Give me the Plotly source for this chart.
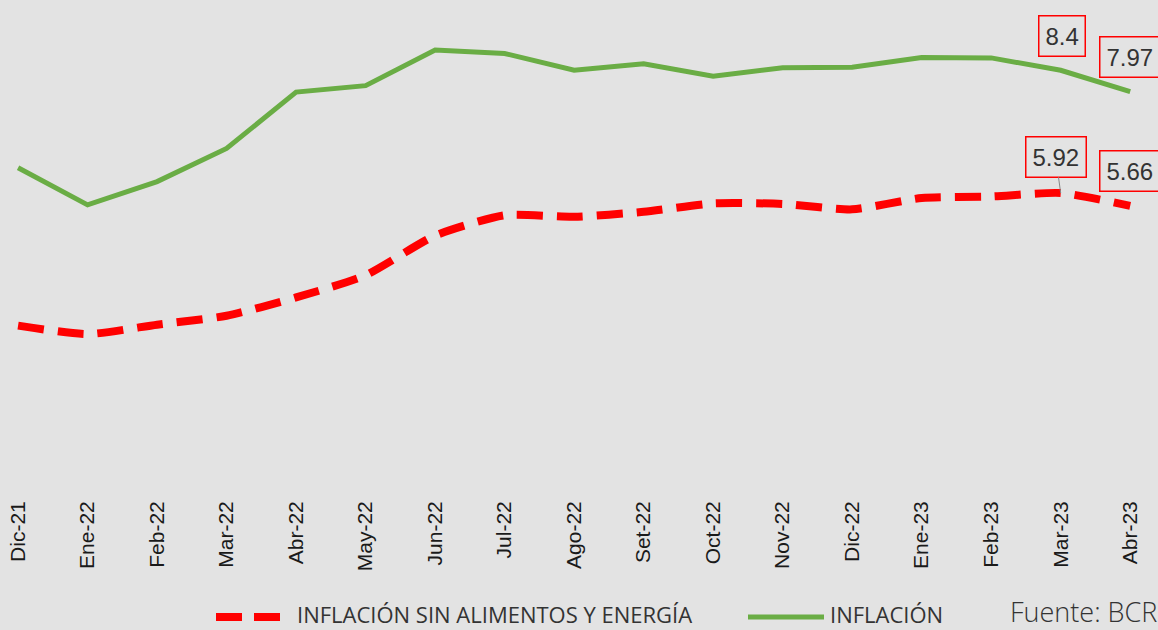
import plotly.graph_objects as go

# meses (eje x)
meses = ["Dic-21", "Ene-22", "Feb-22", "Mar-22", "Abr-22", "May-22", "Jun-22", "Jul-22",
         "Ago-22", "Set-22", "Oct-22", "Nov-22", "Dic-22", "Ene-23", "Feb-23", "Mar-23", "Abr-23"]

# inflacion 12 meses (%)
inflacion = [6.43, 5.68, 6.15, 6.82, 7.96, 8.09, 8.81, 8.74, 8.40, 8.53, 8.28, 8.45, 8.46,
             8.66, 8.65, 8.40, 7.97]

# inflacion sin alimentos y energia (%)
inflacion_sae = [3.24, 3.07, 3.26, 3.44, 3.81, 4.26, 5.06, 5.47, 5.44, 5.54, 5.71, 5.70, 5.59,
                 5.82, 5.85, 5.92, 5.66]

ROJO = "#ff0000"
VERDE = "#6aad45"
BG = "#e3e3e3"

fig = go.Figure()
fig.add_trace(go.Scatter(x=meses, y=inflacion_sae, mode="lines", name="INFLACIÓN SIN ALIMENTOS Y ENERGÍA",
                         line=dict(color=ROJO, width=8, dash="26px,14px", shape="spline", smoothing=0.6),
                         showlegend=False))
fig.add_trace(go.Scatter(x=meses, y=inflacion, mode="lines", name="INFLACIÓN",
                         line=dict(color=VERDE, width=5), showlegend=False))

# etiquetas de los ultimos valores
def etiqueta(i, serie, dx=0, dy=-35, flecha=False):
    fig.add_annotation(x=meses[i], y=serie[i], text=f"{serie[i]:g}", xref="x", yref="y",
                       showarrow=flecha, ax=dx, ay=dy, arrowhead=0, arrowwidth=1, arrowcolor="#888",
                       xshift=0 if flecha else dx, yshift=0 if flecha else -dy,
                       font=dict(family="Liberation Sans", size=24, color="#333"),
                       bordercolor=ROJO, borderwidth=1.5, borderpad=6, bgcolor="rgba(0,0,0,0)")

etiqueta(15, inflacion, dx=1, dy=-34)
etiqueta(16, inflacion, dx=0, dy=-35)
etiqueta(15, inflacion_sae, dx=-5, dy=-36, flecha=True)
etiqueta(16, inflacion_sae, dx=0, dy=-35)

# leyenda manual (abajo)
def py(pix):
    return (486 - pix) / 486

fig.add_shape(type="line", xref="paper", yref="paper", x0=216 / 1158, x1=281 / 1158, y0=py(617), y1=py(617),
              line=dict(color=ROJO, width=8, dash="26px,12px"))
fig.add_shape(type="line", xref="paper", yref="paper", x0=748 / 1158, x1=824 / 1158, y0=py(617), y1=py(617),
              line=dict(color=VERDE, width=5))
fig.add_annotation(xref="paper", yref="paper", x=296 / 1158, y=py(630), xanchor="left", yanchor="bottom",
                   text="INFLACIÓN SIN ALIMENTOS Y ENERGÍA", showarrow=False, borderpad=0,
                   font=dict(family="Open Sans", size=22, color="#333"))
fig.add_annotation(xref="paper", yref="paper", x=829 / 1158, y=py(630), xanchor="left", yanchor="bottom",
                   text="INFLACIÓN", showarrow=False, borderpad=0,
                   font=dict(family="Open Sans", size=22, color="#333"))
fig.add_annotation(xref="paper", yref="paper", x=1009 / 1158, y=py(631), xanchor="left", yanchor="bottom",
                   text="Fuente: BCR", showarrow=False, borderpad=0,
                   font=dict(family="Open Sans", size=27, color="#333", weight=300))

fig.update_xaxes(range=[-0.26, 16.4], tickangle=-90, showgrid=False, zeroline=False, showline=False,
                 ticks="", ticklabelstandoff=10,
                 tickfont=dict(family="Liberation Sans", size=21, color="#1a1a1a"))
fig.update_yaxes(range=[0, 9.82], visible=False, showgrid=False)

fig.update_layout(width=1158, height=630, margin=dict(l=0, r=0, t=0, b=144),
                  paper_bgcolor=BG, plot_bgcolor=BG)

fig.write_html("out.html", config={"displayModeBar": False},
               post_script="document.body.style.margin='0';")
